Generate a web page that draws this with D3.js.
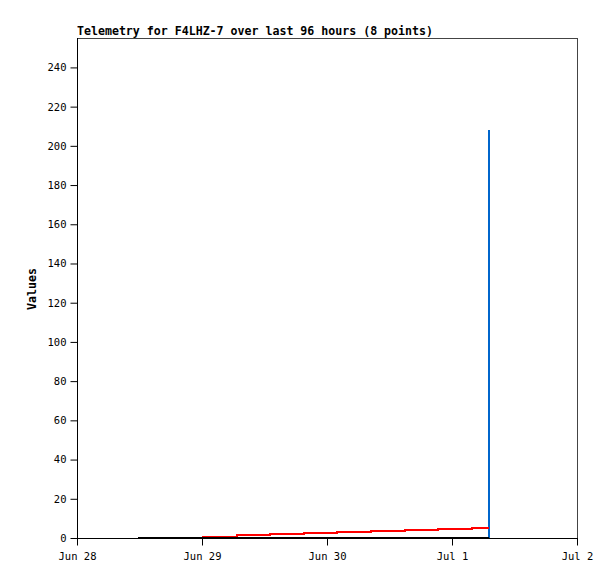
<!DOCTYPE html>
<html>
<head>
<meta charset="utf-8">
<script src="https://cdn.jsdelivr.net/npm/d3@7"></script>
<style>
  html, body { margin: 0; padding: 0; background: #fff; }
  svg { display: block; }
  text { font-family: "DejaVu Sans Mono", "Liberation Mono", monospace; }
</style>
</head>
<body>
<svg id="chart" width="615" height="579"></svg>
<script>
// ---- data ----
const title = "Telemetry for F4LHZ-7 over last 96 hours (8 points)";
const yLabel = "Values";
const startDate = "2023-06-28T00:00:00Z";
const endDate = "2023-07-02T00:00:00Z";
const xTickDates = ["2023-06-28", "2023-06-29", "2023-06-30", "2023-07-01", "2023-07-02"];
const xTickLabels = ["Jun 28", "Jun 29", "Jun 30", "Jul 1", "Jul 2"];
const yTicks = [0, 20, 40, 60, 80, 100, 120, 140, 160, 180, 200, 220, 240];
// hours since Jun 28 00:00 UTC
const sampleHours = [11.7, 24.2, 30.7, 37.1, 43.6, 49.9, 56.4, 63.0, 69.3, 75.8, 79.1];
const redValues   = [0, 0.7, 1.3, 1.9, 2.4, 2.9, 3.4, 3.9, 4.4, 5.0, 5.0];
const blueValues  = [0, 0, 0, 0, 0, 0, 0, 0, 0, 0, 208];
const blackValues = [0, 0, 0, 0, 0, 0, 0, 0, 0, 0, 0];
const yMax = 255;

// ---- layout ----
const svg = d3.select("#chart");
const m = { left: 77, right: 577, top: 38, bottom: 538 };
const t0 = new Date(startDate);
const x = d3.scaleUtc().domain([t0, new Date(endDate)]).range([m.left, m.right]);
const y = d3.scaleLinear().domain([0, yMax]).range([m.bottom, m.top]);
const toDate = h => new Date(t0.getTime() + h * 3600 * 1000);

// frame (top/right grey)
svg.append("line").attr("x1", m.left).attr("x2", m.right + 0.5).attr("y1", m.top + 0.5).attr("y2", m.top + 0.5)
  .attr("stroke", "#444").attr("stroke-width", 1);
svg.append("line").attr("x1", m.right + 0.5).attr("x2", m.right + 0.5).attr("y1", m.top).attr("y2", m.bottom)
  .attr("stroke", "#444").attr("stroke-width", 1);

// series
function series(vals, color, width) {
  const pts = sampleHours.map((h, i) => ({ t: toDate(h), v: vals[i] }));
  const line = d3.line().x(d => x(d.t)).y(d => y(d.v)).curve(d3.curveStepAfter);
  svg.append("path").datum(pts).attr("d", line)
    .attr("fill", "none").attr("stroke", color).attr("stroke-width", width)
    .attr("shape-rendering", "crispEdges");
}
series(blueValues, "#0066cc", 2);
series(redValues, "#ff0000", 2);
series(blackValues, "#000000", 2);

// axes
const xAxis = d3.axisBottom(x)
  .tickValues(xTickDates.map(d => new Date(d + "T00:00:00Z")))
  .tickFormat((d, i) => xTickLabels[i])
  .tickSizeInner(7).tickSizeOuter(0).tickPadding(7);
const gx = svg.append("g").attr("transform", `translate(0,${m.bottom + 0.5})`).call(xAxis);

const yAxis = d3.axisLeft(y).tickValues(yTicks).tickFormat(d3.format("d"))
  .tickSizeInner(7).tickSizeOuter(0).tickPadding(4);
const gy = svg.append("g").attr("transform", `translate(${m.left + 0.5},0)`).call(yAxis);

[gx, gy].forEach(g => {
  g.selectAll("path.domain").attr("stroke", "#000").attr("stroke-width", 1);
  g.selectAll(".tick line").attr("stroke", "#000");
  g.selectAll(".tick text").attr("font-size", "10.5px").attr("fill", "#000")
    .attr("font-family", '"DejaVu Sans Mono", "Liberation Mono", monospace');
});
gx.select("path.domain").attr("d", `M${m.left},0H${m.right + 1}`);
gy.select("path.domain").attr("d", `M0,${m.top}V${m.bottom}`);

// title
svg.append("text").attr("x", m.left).attr("y", 35).text(title)
  .attr("font-size", "11.6px").attr("font-weight", "bold").attr("fill", "#000");

// y label
svg.append("text").attr("transform", `translate(36,${(m.top + m.bottom) / 2 + 1}) rotate(-90)`)
  .attr("text-anchor", "middle").text(yLabel)
  .attr("font-size", "11.6px").attr("font-weight", "bold").attr("fill", "#000");
</script>
</body>
</html>
